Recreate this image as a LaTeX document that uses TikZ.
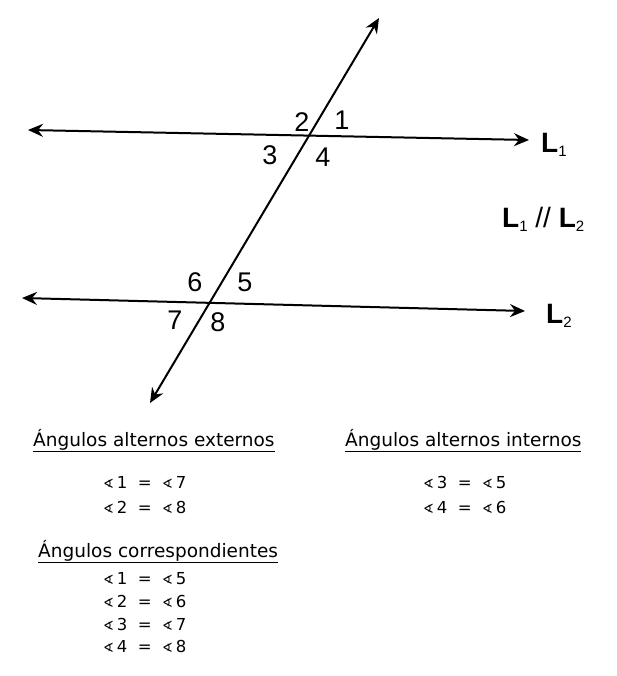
\documentclass[tikz,border=0pt]{standalone}
\usepackage{fontspec}
\setmainfont{DejaVu Sans}
\newfontfamily\figfont{Liberation Sans}
\usetikzlibrary{arrows.meta}

\newcommand{\Lsub}[1]{L\raisebox{-4pt}{\mdseries\fontsize{15}{15}\selectfont #1}}
\newcommand{\angsym}[1]{{\fontsize{13}{13}\selectfont ∢}\,#1}

\begin{document}
\begin{tikzpicture}[x=1pt, y=-1pt,
    line/.style={line width=2pt, {Stealth[length=15pt, width=13pt, inset=5pt]}-{Stealth[length=15pt, width=13pt, inset=5pt]}},
    num/.style={font=\figfont\fontsize{27}{27}\selectfont, inner sep=0pt},
    lab/.style={font=\figfont\bfseries\fontsize{28}{28}\selectfont, inner sep=0pt, anchor=base west},
    head/.style={font=\fontsize{18.5}{20}\selectfont, inner sep=0pt, anchor=base west},
    eq/.style={font=\fontsize{16.5}{18}\selectfont, inner sep=0pt, anchor=base west}
]
\useasboundingbox (0,0) rectangle (616,676);

\coordinate (a1) at (28,130);
\coordinate (b1) at (529,140);
\coordinate (a2) at (22,298);
\coordinate (b2) at (525,311);
\coordinate (ta) at (379,18);
\coordinate (tb) at (150,403);

\draw[line] (a1) -- (b1);
\draw[line] (a2) -- (b2);
\draw[line] (tb) -- (ta);

\node[num] (n1) at (342,120) {1};
\node[num] (n2) at (302,122) {2};
\node[num] (n3) at (270,155) {3};
\node[num] (n4) at (323,157) {4};
\node[num] (n5) at (245,282) {5};
\node[num] (n6) at (195,282) {6};
\node[num] (n7) at (175,320) {7};
\node[num] (n8) at (218,322) {8};

\node[lab] (l1) at (541,153) {\Lsub{1}};
\node[lab] (l2) at (546,323) {\Lsub{2}};
\node[lab] (par) at (502,227) {\Lsub{1} {\mdseries //} \Lsub{2}};

\node[head] (ext) at (33,446) {\underline{Ángulos alternos externos}};
\node[eq] (e1) at (103,488) {\angsym{1} \ = \ \angsym{7}};
\node[eq] (e2) at (103,513) {\angsym{2} \ = \ \angsym{8}};

\node[head] (int) at (345,446) {\underline{Ángulos alternos internos}};
\node[eq] (i1) at (423,488) {\angsym{3} \ = \ \angsym{5}};
\node[eq] (i2) at (423,513) {\angsym{4} \ = \ \angsym{6}};

\node[head] (cor) at (38,557) {\underline{Ángulos correspondientes}};
\node[eq] (c1) at (103,584) {\angsym{1} \ = \ \angsym{5}};
\node[eq] (c2) at (103,607) {\angsym{2} \ = \ \angsym{6}};
\node[eq] (c3) at (103,630) {\angsym{3} \ = \ \angsym{7}};
\node[eq] (c4) at (103,652) {\angsym{4} \ = \ \angsym{8}};
\end{tikzpicture}
\end{document}
